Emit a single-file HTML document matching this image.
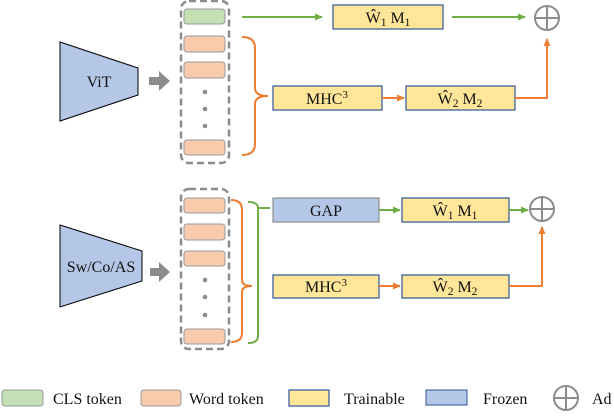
<!DOCTYPE html>
<html><head><meta charset="utf-8"><style>
html,body{margin:0;padding:0;background:#fff;}
svg text{font-family:"Liberation Serif","DejaVu Serif",serif;font-size:16px;fill:#111;}
</style></head><body>
<svg width="614" height="412" viewBox="0 0 614 412" xmlns="http://www.w3.org/2000/svg" font-family="Liberation Serif, DejaVu Serif, serif">
<defs>
<marker id="ag" markerWidth="8" markerHeight="8" refX="7" refY="4" orient="auto" markerUnits="userSpaceOnUse"><path d="M0,0.5 L8,4 L0,7.5z" fill="#70ad47"/></marker>
<marker id="ao" markerWidth="8" markerHeight="8" refX="7" refY="4" orient="auto" markerUnits="userSpaceOnUse"><path d="M0,0.5 L8,4 L0,7.5z" fill="#ed7d31"/></marker>
</defs>
<!-- TOP -->
<polygon points="60,42 138,68 138,95 60,121" fill="#b4c7e7" stroke="#000" stroke-width="1"/>
<text x="99" y="87" text-anchor="middle">ViT</text>
<polygon points="149,77 159,77 159,71 170,81 159,91 159,85 149,85" fill="#8c8c8c"/>
<rect x="181" y="1" width="48" height="162" rx="8" fill="none" stroke="#8c8c8c" stroke-width="2.5" stroke-dasharray="7,4"/>
<rect x="184" y="9" width="41" height="15" rx="3" fill="#c5e0b4" stroke="#999"/>
<rect x="184" y="36" width="41" height="16" rx="3" fill="#f8cbad" stroke="#999"/>
<rect x="184" y="62" width="41" height="16" rx="3" fill="#f8cbad" stroke="#999"/>
<rect x="184" y="140" width="41" height="15" rx="3" fill="#f8cbad" stroke="#999"/>
<circle cx="205" cy="92" r="2.3" fill="#8c8c8c"/><circle cx="205" cy="109" r="2.3" fill="#8c8c8c"/><circle cx="205" cy="126" r="2.3" fill="#8c8c8c"/>
<path d="M242,37 Q255,37 255,48 L255,88 Q255,96 268,96 Q255,96 255,104 L255,144 Q255,155 242,155" fill="none" stroke="#ed7d31" stroke-width="2"/>
<line x1="242" y1="17" x2="322" y2="17" stroke="#70ad47" stroke-width="2" marker-end="url(#ag)"/>
<rect x="333" y="5" width="110" height="24" fill="#ffe699" stroke="#2f5597" stroke-width="1.2"/>
<text x="388" y="23" text-anchor="middle">W&#770;<tspan font-size="11.5" dy="3">1</tspan><tspan dy="-3"> M</tspan><tspan font-size="11.5" dy="3">1</tspan></text>
<line x1="452" y1="17" x2="525" y2="17" stroke="#70ad47" stroke-width="2" marker-end="url(#ag)"/>
<circle cx="547" cy="18" r="12" fill="none" stroke="#8c8c8c" stroke-width="2"/>
<line x1="535" y1="18" x2="559" y2="18" stroke="#8c8c8c" stroke-width="2"/><line x1="547" y1="6" x2="547" y2="30" stroke="#8c8c8c" stroke-width="2"/>
<rect x="273" y="86" width="109" height="24" fill="#ffe699" stroke="#2f5597" stroke-width="1.2"/>
<text x="327" y="104" text-anchor="middle">MHC<tspan font-size="11" dy="-6">3</tspan></text>
<line x1="382" y1="98" x2="404" y2="98" stroke="#ed7d31" stroke-width="2" marker-end="url(#ao)"/>
<rect x="406" y="86" width="109" height="24" fill="#ffe699" stroke="#2f5597" stroke-width="1.2"/>
<text x="460" y="104" text-anchor="middle">W&#770;<tspan font-size="11.5" dy="3">2</tspan><tspan dy="-3"> M</tspan><tspan font-size="11.5" dy="3">2</tspan></text>
<polyline points="515,98 547,98 547,39" fill="none" stroke="#ed7d31" stroke-width="2" marker-end="url(#ao)"/>
<!-- BOTTOM -->
<polygon points="60,225 142,251 142,281 60,307" fill="#b4c7e7" stroke="#000" stroke-width="1"/>
<text x="101" y="272" text-anchor="middle">Sw/Co/AS</text>
<polygon points="150,268 159,268 159,262 170,272 159,282 159,276 150,276" fill="#8c8c8c"/>
<rect x="181" y="189" width="48" height="160" rx="8" fill="none" stroke="#8c8c8c" stroke-width="2.5" stroke-dasharray="7,4"/>
<rect x="184" y="198" width="41" height="15" rx="3" fill="#f8cbad" stroke="#999"/>
<rect x="184" y="224" width="41" height="16" rx="3" fill="#f8cbad" stroke="#999"/>
<rect x="184" y="251" width="41" height="15" rx="3" fill="#f8cbad" stroke="#999"/>
<rect x="184" y="329" width="41" height="15" rx="3" fill="#f8cbad" stroke="#999"/>
<circle cx="205" cy="280" r="2.3" fill="#8c8c8c"/><circle cx="205" cy="297" r="2.3" fill="#8c8c8c"/><circle cx="205" cy="315" r="2.3" fill="#8c8c8c"/>
<path d="M231,200 Q242,200 242,210 L242,280 Q242,286 252,286 Q242,286 242,292 L242,333 Q242,342 231,342" fill="none" stroke="#ed7d31" stroke-width="2"/>
<path d="M248,202 Q258,202 258,208 Q258,208 270,208 M258,208 L258,336 Q258,343 248,343" fill="none" stroke="#70ad47" stroke-width="2"/>
<rect x="273" y="198" width="106" height="24" fill="#b4c7e7" stroke="#8c8c8c" stroke-width="1.2"/>
<text x="326" y="216" text-anchor="middle">GAP</text>
<line x1="379" y1="210" x2="400" y2="210" stroke="#70ad47" stroke-width="2" marker-end="url(#ag)"/>
<rect x="402" y="198" width="107" height="24" fill="#ffe699" stroke="#2f5597" stroke-width="1.2"/>
<text x="455" y="216" text-anchor="middle">W&#770;<tspan font-size="11.5" dy="3">1</tspan><tspan dy="-3"> M</tspan><tspan font-size="11.5" dy="3">1</tspan></text>
<line x1="509" y1="210" x2="528" y2="210" stroke="#70ad47" stroke-width="2" marker-end="url(#ag)"/>
<circle cx="542" cy="209" r="12" fill="none" stroke="#8c8c8c" stroke-width="2"/>
<line x1="530" y1="209" x2="554" y2="209" stroke="#8c8c8c" stroke-width="2"/><line x1="542" y1="197" x2="542" y2="221" stroke="#8c8c8c" stroke-width="2"/>
<rect x="273" y="275" width="106" height="23" fill="#ffe699" stroke="#2f5597" stroke-width="1.2"/>
<text x="326" y="292" text-anchor="middle">MHC<tspan font-size="11" dy="-6">3</tspan></text>
<line x1="379" y1="286" x2="400" y2="286" stroke="#ed7d31" stroke-width="2" marker-end="url(#ao)"/>
<rect x="402" y="275" width="107" height="23" fill="#ffe699" stroke="#2f5597" stroke-width="1.2"/>
<text x="455" y="292" text-anchor="middle">W&#770;<tspan font-size="11.5" dy="3">2</tspan><tspan dy="-3"> M</tspan><tspan font-size="11.5" dy="3">2</tspan></text>
<polyline points="509,286 542,286 542,227" fill="none" stroke="#ed7d31" stroke-width="2" marker-end="url(#ao)"/>
<!-- LEGEND -->
<rect x="2" y="390" width="41" height="16" rx="3" fill="#c5e0b4" stroke="#999"/>
<text x="53" y="404" fill="#333">CLS token</text>
<rect x="141" y="390" width="40" height="16" rx="3" fill="#f8cbad" stroke="#999"/>
<text x="189" y="404" fill="#333">Word token</text>
<rect x="289" y="390" width="40" height="16" fill="#ffe699" stroke="#2f5597" stroke-width="1.2"/>
<text x="344" y="404" fill="#333">Trainable</text>
<rect x="426" y="390" width="41" height="15" fill="#b4c7e7" stroke="#2f5597" stroke-width="1"/>
<text x="483" y="404" fill="#333">Frozen</text>
<circle cx="566" cy="398" r="12" fill="none" stroke="#8c8c8c" stroke-width="2"/>
<line x1="554" y1="398" x2="578" y2="398" stroke="#8c8c8c" stroke-width="2"/><line x1="566" y1="386" x2="566" y2="410" stroke="#8c8c8c" stroke-width="2"/>
<text x="592" y="404" fill="#333">Ad</text>
</svg>
</body></html>
